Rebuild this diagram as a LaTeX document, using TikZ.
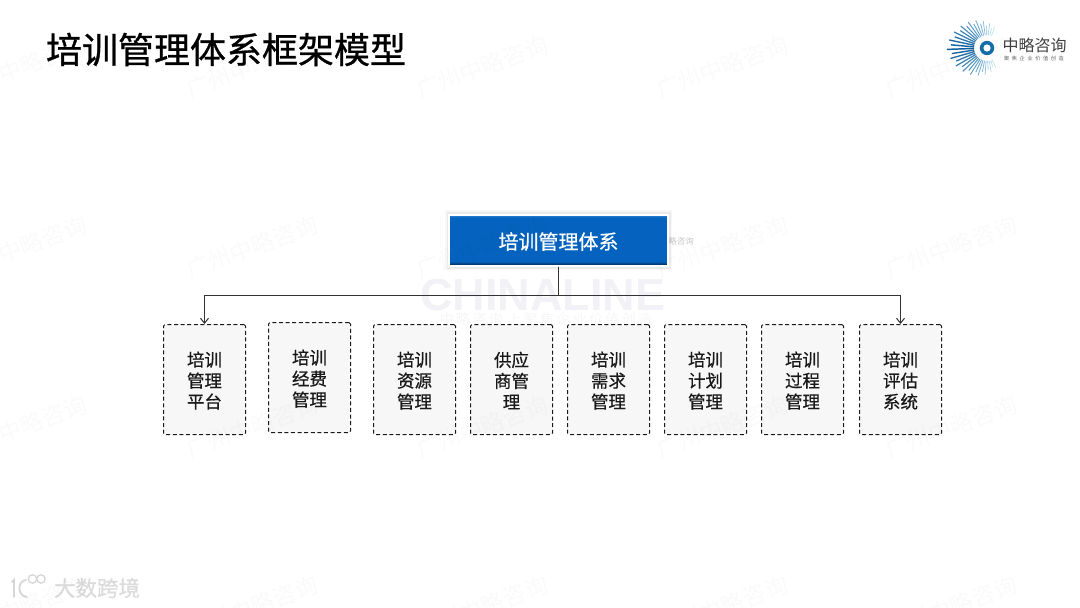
\documentclass[tikz,border=0pt]{standalone}
\usepackage{fontspec}
\usetikzlibrary{arrows.meta}
\newfontfamily\cjk{Noto Sans CJK SC}
\newfontfamily\cjkm{Noto Sans CJK SC}[FakeBold=0.6]
\newfontfamily\cjkt{Noto Sans CJK SC}[FakeBold=0.8]
\newfontfamily\latinb{Liberation Sans Bold}
\definecolor{boxblue}{HTML}{0563BF}
\definecolor{boxdark}{HTML}{003A75}
\definecolor{boxlite}{HTML}{3D8AD6}
\definecolor{raytone}{HTML}{A6DAF0}
\definecolor{raydeep}{HTML}{0F5E9C}
\pgfdeclareverticalshading{topblue}{100bp}{color(0bp)=(boxdark); color(26.5bp)=(boxdark); color(29bp)=(boxblue); color(72bp)=(boxblue); color(75bp)=(boxlite); color(100bp)=(boxlite)}
\tikzset{
  x=1pt,y=-1pt,
  modbox/.style={draw=black!90,fill=black!3,dashed,dash pattern=on 4pt off 2.6pt,line width=1pt,rounded corners=1.5pt,
    minimum width=82pt,minimum height=110pt,inner sep=0pt,align=center,text=black!90,font=\cjkm\fontsize{17.5}{21}\selectfont},
  headbox/.style={draw=white,line width=2pt,shading=topblue,minimum width=219pt,minimum height=51pt,inner sep=0pt,text=white,
    font=\cjkm\fontsize{20}{24}\selectfont},
  conn/.style={draw=black!80,line width=1pt},
  arrowtip/.style={-{Straight Barb[length=5pt,width=8pt,line width=1pt]}},
  mark wm/.style={text=black,text opacity=0.02,font=\cjk\fontsize{23}{23}\selectfont,rotate=20,inner sep=0pt},
  brand/.style={inner sep=0pt,anchor=center}
}
\newcommand\gapped{\hspace{2.6pt}}
\newcommand\lead{\rule{0pt}{17pt}}
\begin{document}
\begin{tikzpicture}
\useasboundingbox[fill=white] (0,0) rectangle (1080,608);
% faint CHINALINE backdrop
\node[brand,text=blue!35!black,text opacity=0.05] (cl) at (543,295) {\latinb\fontsize{45}{45}\selectfont CHINALINE};
\node[brand,text=black,text opacity=0.035] (clsub) at (546,319) {\cjk\fontsize{14}{14}\selectfont 中\,略\,咨\,询\,\,上\,聚\,焦\,企\,业\,价\,值\,创\,造};
% small faint logo beside the head box
\node[brand,text=black,text opacity=0.22] (minilogo) at (681,241) {\cjk\fontsize{8.5}{9}\selectfont 略咨询};
% title
\node[brand,text=black] (title) at (226,49.5) {\cjkt\fontsize{36}{36}\selectfont 培训管理体系框架模型};
% head shadow
\fill[black,opacity=0.03] (445,210) rectangle (672,270);
\fill[black,opacity=0.05] (446.5,211.5) rectangle (670.5,268.5);
% head
\node[headbox] (top) at (558.5,240) {\rule{0pt}{20pt}培训管理体系};
% modules
\node[modbox] (m1) at (204.5,379.5) {\lead 培训\\管理\\平台};
\node[modbox] (m2) at (309.5,377.5) {\lead 培训\\经费\\管理};
\node[modbox] (m3) at (414.5,379.5) {\lead 培训\\资源\\管理};
\node[modbox] (m4) at (511.5,379.5) {\lead 供应\\商管\\理};
\node[modbox] (m5) at (608.5,379.5) {\lead 培训\\需求\\管理};
\node[modbox] (m6) at (705.5,379.5) {\lead 培训\\计划\\管理};
\node[modbox] (m7) at (802.5,379.5) {\lead 培训\\过程\\管理};
\node[modbox] (m8) at (900.5,379.5) {\lead 培训\\评估\\系统};
% connectors
\coordinate (busL) at (204.5,295.5);
\coordinate (busR) at (900.5,295.5);
\draw[conn,arrowtip] (top.south) |- (busL) -- (m1.north);
\draw[conn,arrowtip] (top.south) |- (busR) -- (m8.north);
% logo, top right
\foreach \a in {66,73,...,296}{
  \pgfmathsetmacro{\mixv}{max(0,100-abs(\a-180)*0.9)}
  \pgfmathsetmacro{\wid}{0.4+\mixv/100*1.1}
  \pgfmathsetmacro{\alt}{mod(int((\a-66)/7),2)}
  \pgfmathsetmacro{\r}{21+19.5*pow(max(0,1-abs(\a-180)/115),0.9)-3.5*\alt}
  \pgfmathsetmacro{\xa}{987+13*cos(\a)}
  \pgfmathsetmacro{\ya}{48+13*sin(\a)}
  \pgfmathsetmacro{\xb}{987+\r*cos(\a)}
  \pgfmathsetmacro{\yb}{48+\r*sin(\a)}
  \draw[color=raydeep!\mixv!raytone,line width=\wid pt] (\xa,\ya) -- (\xb,\yb);
}
\fill[color={rgb,255:red,20;green,110;blue,170}] (987,48) circle (7.2);
\fill[white] (987,48) circle (3.6);
\node[brand,text=black!75] (logotext) at (1034.5,45.5) {\cjk\fontsize{16}{16}\selectfont 中略咨询};
\node[brand,text=black!60] (logosub) at (1034,58.5) {\cjk\fontsize{5.2}{6}\selectfont 聚\gapped 焦\gapped 企\gapped 业\gapped 价\gapped 值\gapped 创\gapped 造};
% bottom-left mark
\begin{scope}[draw=black!16,line width=1.8pt,line cap=round]
  \draw (12,582) -- (14,580) -- (14,597);
  \draw (26,580) .. controls (17,581) and (17,596) .. (27,597);
  \draw[line width=1.3pt] (32.5,579) circle (4.2);
  \draw[line width=1.3pt] (41,579) circle (4.2);
\end{scope}
\node[brand,text=black!14] (bl) at (97,588) {\cjkm\fontsize{21.5}{22}\selectfont 大数跨境};
% repeating watermark
\foreach \cx in {21,252,482,722,951}{
  \foreach \cy in {67,247,427,607}{
    \node[mark wm] at (\cx,\cy) {广州中略咨询};
  }
}
\end{tikzpicture}
\end{document}
